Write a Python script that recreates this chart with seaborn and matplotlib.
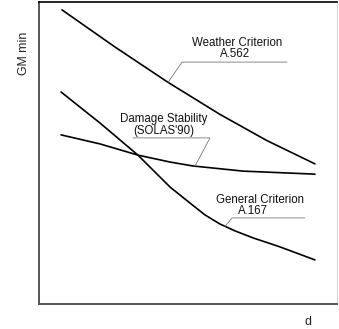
import numpy as np
import pandas as pd
import matplotlib
matplotlib.use("Agg")
import matplotlib.pyplot as plt
import seaborn as sns

# ==========================================
# DATA (arbitrary units 0..10)
# ==========================================
weather_d = [0.77, 2.55, 4.33, 6.07, 7.65, 9.26]
weather_gm = [9.74, 8.51, 7.34, 6.28, 5.41, 4.64]

damage_d = [0.74, 2.05, 3.32, 4.40, 5.17, 6.85, 9.26]
damage_gm = [5.60, 5.30, 4.93, 4.70, 4.57, 4.40, 4.30]

general_d = [0.74, 2.05, 3.32, 4.40, 5.07, 5.57, 6.07, 6.58, 7.18, 8.09, 9.26]
general_gm = [7.02, 5.99, 4.93, 3.87, 3.34, 2.95, 2.65, 2.42, 2.19, 1.89, 1.46]

labels = ["Weather Criterion\nA.562", "Damage Stability\n(SOLAS'90)", "General Criterion\nA.167"]

df = pd.concat([
    pd.DataFrame({"d": weather_d, "gm": weather_gm, "curve": labels[0]}),
    pd.DataFrame({"d": damage_d, "gm": damage_gm, "curve": labels[1]}),
    pd.DataFrame({"d": general_d, "gm": general_gm, "curve": labels[2]}),
])

# ==========================================
# PLOT
# ==========================================
sns.set_style("white")
plt.rcParams["font.family"] = ["Liberation Sans", "DejaVu Sans"]

fig = plt.figure(figsize=(3.39, 3.29), dpi=100)
ax = fig.add_axes([39 / 339, 25 / 329, 298 / 339, 302 / 329])

for name in labels:
    sub = df[df["curve"] == name]
    sns.lineplot(data=sub, x="d", y="gm", sort=False, color="black",
                 linewidth=1.2, ax=ax, legend=False)

# leader lines + labels
leader = dict(color="#777777", linewidth=0.6)
ax.plot([4.33, 4.80, 8.32], [7.34, 8.01, 8.01], **leader)
ax.plot([5.23, 5.74, 3.15], [4.56, 5.50, 5.50], **leader)
ax.plot([6.24, 6.48, 8.93], [2.57, 2.85, 2.85], **leader)

txt = dict(fontsize=8.3, ha="center", va="center", color="#111111")
ax.text(6.64, 8.64, "Weather Criterion", **txt)
ax.text(6.58, 8.28, "A.562", **txt)
ax.text(4.19, 6.13, "Damage Stability", **txt)
ax.text(4.19, 5.73, "(SOLAS'90)", **txt)
ax.text(7.42, 3.44, "General Criterion", **txt)
ax.text(7.18, 3.08, "A.167", **txt)

ax.set_xlim(0, 10)
ax.set_ylim(0, 10)
ax.set_xticks([])
ax.set_yticks([])
ax.set_xlabel("")
ax.set_ylabel("")

ax.spines["left"].set_color("#555555")
ax.spines["left"].set_linewidth(1.4)
ax.spines["bottom"].set_color("#555555")
ax.spines["bottom"].set_linewidth(1.4)
ax.spines["top"].set_color("black")
ax.spines["top"].set_linewidth(1.2)
ax.spines["right"].set_color("#d8d8d8")
ax.spines["right"].set_linewidth(0.8)

fig.text(24 / 339, 1 - 53 / 329, "GM min", rotation=90, fontsize=8.8,
         ha="center", va="center", color="#222222")
fig.text(308 / 339, 1 - 322 / 329, "d", fontsize=9,
         ha="center", va="center", color="#222222")

fig.savefig("out.png", dpi=100)
